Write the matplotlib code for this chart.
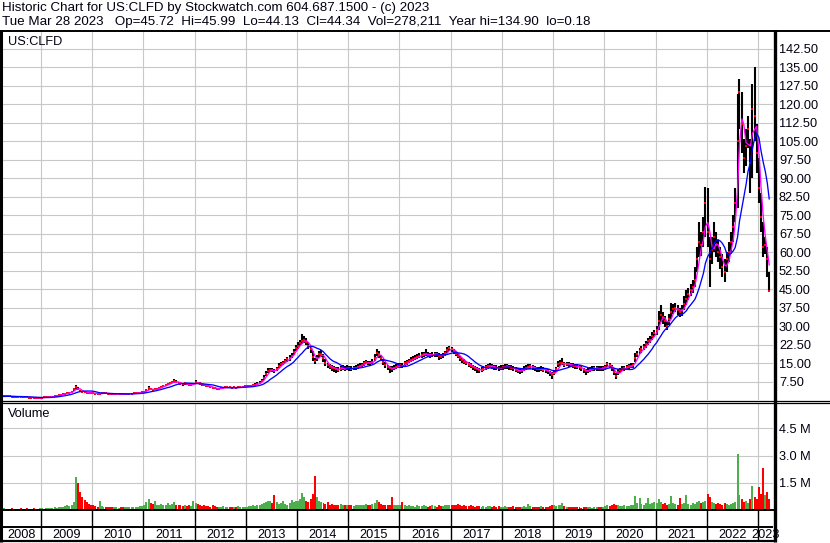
import matplotlib
matplotlib.use('Agg')
import matplotlib.pyplot as plt
import matplotlib.dates as mdates
from matplotlib.lines import Line2D
import numpy as np
import pandas as pd

plt.rcParams['font.family'] = ['Liberation Sans', 'DejaVu Sans']

# ---------------- data (semi-monthly periods) ----------------
ticker = "US:CLFD"
header1 = "Historic Chart for US:CLFD by Stockwatch.com 604.687.1500 - (c) 2023"
header2 = ("Tue Mar 28 2023   Op=45.72  Hi=45.99  Lo=44.13  Cl=44.34  "
           "Vol=278,211  Year hi=134.90  lo=0.18")
years = list(range(2008, 2024))

close_2008 = [1.45, 1.50, 1.55, 1.50, 1.40, 1.35, 1.30, 1.30, 1.25, 1.20, 1.15, 1.10, 1.00, 0.95, 0.90, 0.85, 0.90, 0.95]
high_2008 = [1.60, 1.65, 1.70, 1.62, 1.55, 1.48, 1.42, 1.45, 1.38, 1.32, 1.28, 1.25, 1.15, 1.08, 1.02, 0.98, 1.02, 1.08]
low_2008 = [1.35, 1.38, 1.42, 1.38, 1.28, 1.22, 1.18, 1.20, 1.12, 1.08, 1.02, 0.95, 0.85, 0.82, 0.75, 0.72, 0.78, 0.85]

close_2009 = [1.00, 1.05, 1.10, 1.20, 1.30, 1.40, 1.60, 1.80, 2.00, 2.20, 2.40, 2.60, 2.80, 3.00, 3.40, 4.30, 5.20, 4.40, 3.80, 3.40, 3.10, 3.00, 2.90, 2.80]
high_2009 = [1.10, 1.15, 1.22, 1.32, 1.42, 1.55, 1.75, 1.95, 2.15, 2.35, 2.55, 2.75, 3.00, 3.20, 3.70, 5.00, 6.20, 5.30, 4.20, 3.70, 3.40, 3.25, 3.10, 3.00]
low_2009 = [0.90, 0.95, 1.00, 1.10, 1.20, 1.30, 1.45, 1.65, 1.85, 2.05, 2.25, 2.45, 2.60, 2.85, 3.10, 3.50, 4.20, 3.90, 3.40, 3.10, 2.85, 2.80, 2.70, 2.60]

close_2010 = [2.70, 2.60, 2.50, 2.60, 2.70, 2.80, 2.70, 2.60, 2.50, 2.40, 2.40, 2.50, 2.50, 2.40, 2.30, 2.40, 2.50, 2.60, 2.60, 2.70, 2.80, 2.90, 3.00, 3.20]
high_2010 = [2.90, 2.80, 2.70, 2.85, 2.95, 3.05, 2.90, 2.80, 2.70, 2.60, 2.60, 2.70, 2.70, 2.60, 2.50, 2.60, 2.70, 2.80, 2.80, 2.90, 3.00, 3.10, 3.25, 3.50]
low_2010 = [2.50, 2.40, 2.30, 2.40, 2.50, 2.60, 2.50, 2.40, 2.30, 2.20, 2.20, 2.30, 2.30, 2.20, 2.10, 2.20, 2.30, 2.40, 2.40, 2.50, 2.60, 2.70, 2.80, 2.95]

close_2011 = [3.40, 4.00, 4.80, 4.30, 4.00, 4.30, 4.60, 4.90, 5.30, 5.70, 6.00, 6.40, 6.80, 7.20, 7.60, 7.30, 7.00, 6.60, 6.30, 6.80, 6.50, 6.00, 6.20, 6.50]
high_2011 = [3.80, 4.50, 5.60, 4.80, 4.40, 4.70, 5.00, 5.30, 5.70, 6.10, 6.50, 6.90, 7.30, 7.80, 8.40, 8.00, 7.50, 7.10, 6.90, 7.30, 7.00, 6.50, 6.70, 7.00]
low_2011 = [3.10, 3.60, 4.20, 3.90, 3.70, 3.90, 4.20, 4.50, 4.90, 5.30, 5.60, 5.90, 6.30, 6.70, 7.00, 6.70, 6.40, 6.10, 5.80, 6.20, 6.00, 5.50, 5.70, 6.00]

close_2012 = [7.20, 7.00, 6.60, 6.20, 6.00, 5.80, 5.50, 5.30, 5.00, 4.70, 4.50, 4.60, 4.80, 5.00, 5.10, 5.20, 5.10, 5.00, 5.10, 5.00, 5.20, 5.30, 5.40, 5.50]
high_2012 = [8.10, 7.50, 7.10, 6.70, 6.40, 6.20, 5.90, 5.70, 5.40, 5.10, 4.90, 5.00, 5.20, 5.40, 5.50, 5.60, 5.50, 5.40, 5.50, 5.40, 5.60, 5.70, 5.80, 5.90]
low_2012 = [6.60, 6.50, 6.10, 5.80, 5.60, 5.40, 5.10, 4.90, 4.60, 4.30, 4.10, 4.20, 4.40, 4.60, 4.70, 4.80, 4.70, 4.60, 4.70, 4.60, 4.80, 4.90, 5.00, 5.10]

close_2013 = [5.5, 5.6, 5.8, 6.0, 6.2, 6.6, 7.0, 7.8, 9.0, 10.5, 11.8, 12.3, 12.0, 11.6, 12.5, 13.8, 14.5, 15.0, 15.8, 16.5, 17.0, 18.0, 19.5, 21.0]
high_2013 = [5.9, 6.0, 6.2, 6.4, 6.7, 7.1, 7.6, 8.6, 10.0, 11.8, 12.9, 13.0, 12.8, 12.5, 13.4, 14.8, 15.5, 16.0, 16.8, 17.6, 18.2, 19.2, 20.8, 22.4]
low_2013 = [5.2, 5.3, 5.5, 5.7, 5.9, 6.2, 6.6, 7.3, 8.2, 9.6, 10.9, 11.4, 11.2, 10.8, 11.6, 12.8, 13.6, 14.1, 14.8, 15.5, 16.0, 17.0, 18.3, 19.8]

close_2014 = [22.0, 23.0, 24.0, 24.5, 23.5, 22.0, 20.5, 17.5, 15.8, 17.0, 18.5, 18.8, 17.0, 15.0, 14.0, 13.5, 13.0, 12.8, 12.5, 12.2, 12.8, 13.0, 12.6, 13.0]
high_2014 = [23.5, 24.5, 26.6, 26.0, 25.0, 23.5, 22.0, 20.0, 17.0, 18.2, 20.0, 20.2, 18.8, 16.5, 15.0, 14.5, 14.0, 13.8, 13.5, 13.2, 13.8, 14.0, 13.6, 14.0]
low_2014 = [20.8, 21.8, 22.8, 23.2, 22.2, 20.8, 19.0, 16.0, 14.5, 15.8, 17.2, 17.5, 15.5, 13.8, 12.9, 12.4, 11.8, 11.5, 10.8, 11.2, 11.8, 12.0, 11.6, 12.0]

close_2015 = [12.8, 12.6, 12.9, 13.1, 13.4, 13.8, 14.2, 14.8, 15.3, 15.0, 14.8, 15.5, 17.0, 19.0, 18.5, 17.0, 15.5, 14.2, 13.2, 12.8, 12.6, 13.0, 13.5, 13.8]
high_2015 = [13.8, 13.6, 13.8, 14.1, 14.4, 14.8, 15.2, 15.8, 16.3, 16.0, 15.8, 16.8, 18.5, 20.7, 19.8, 18.3, 16.8, 15.3, 14.3, 13.8, 13.7, 14.0, 14.5, 14.8]
low_2015 = [11.9, 11.7, 12.0, 12.2, 12.5, 12.9, 13.3, 13.9, 14.4, 14.1, 13.9, 14.5, 15.9, 17.8, 17.2, 15.8, 14.3, 13.0, 12.0, 11.0, 11.5, 12.0, 12.5, 12.8]

close_2016 = [14.0, 13.8, 14.8, 15.3, 15.8, 16.3, 16.8, 17.2, 17.6, 18.0, 18.2, 18.5, 18.8, 18.4, 18.0, 18.3, 18.6, 18.5, 18.0, 17.6, 18.2, 19.0, 20.2, 21.0]
high_2016 = [15.0, 14.8, 15.8, 16.3, 16.8, 17.3, 17.8, 18.2, 18.6, 19.0, 19.3, 19.6, 20.7, 19.5, 19.0, 19.3, 19.6, 19.5, 19.0, 18.6, 19.2, 20.0, 21.3, 21.9]
low_2016 = [13.0, 12.9, 13.8, 14.3, 14.8, 15.3, 15.8, 16.2, 16.6, 17.0, 17.2, 17.5, 17.8, 17.4, 17.0, 17.3, 17.6, 17.5, 16.4, 16.6, 17.2, 18.0, 19.2, 20.0]

close_2017 = [20.6, 19.8, 18.8, 18.0, 17.0, 16.2, 15.5, 15.0, 14.3, 13.8, 13.2, 12.8, 12.5, 12.0, 12.2, 12.6, 13.2, 13.6, 13.8, 13.6, 13.2, 13.0, 12.9, 13.1]
high_2017 = [21.6, 20.8, 19.8, 19.0, 18.0, 17.2, 16.5, 16.0, 15.3, 14.8, 14.2, 13.8, 13.5, 13.0, 13.2, 13.6, 14.2, 14.6, 14.8, 14.6, 14.2, 14.0, 13.9, 14.1]
low_2017 = [19.6, 18.8, 17.8, 17.0, 16.0, 15.2, 14.5, 14.0, 13.3, 12.8, 12.2, 11.8, 11.0, 10.8, 11.2, 11.6, 12.2, 12.6, 12.8, 12.6, 12.2, 12.0, 11.9, 12.1]

close_2018 = [13.2, 13.4, 13.6, 13.3, 13.0, 12.8, 12.2, 11.8, 11.6, 12.0, 12.6, 13.0, 13.4, 13.6, 13.3, 12.8, 12.5, 12.4, 12.6, 12.3, 12.0, 11.6, 10.8, 10.2]
high_2018 = [14.2, 14.4, 14.6, 14.3, 14.0, 13.8, 13.2, 12.8, 12.6, 13.0, 13.6, 14.0, 14.4, 14.6, 14.3, 13.8, 13.5, 13.4, 13.6, 13.3, 13.0, 12.6, 11.8, 11.2]
low_2018 = [12.2, 12.4, 12.6, 12.3, 12.0, 11.8, 11.2, 10.8, 10.6, 11.0, 11.6, 12.0, 12.4, 12.6, 12.3, 11.8, 11.5, 11.4, 11.6, 11.3, 11.0, 10.6, 9.6, 8.4]

close_2019 = [11.0, 12.5, 14.5, 14.8, 15.2, 14.3, 14.6, 14.5, 14.2, 13.9, 13.6, 13.5, 13.2, 12.8, 12.0, 11.6, 11.8, 12.3, 12.6, 12.8, 12.9, 12.7, 12.6, 12.8]
high_2019 = [12.0, 13.5, 15.8, 16.3, 16.9, 15.3, 15.6, 15.5, 15.2, 14.9, 14.6, 14.5, 14.2, 13.8, 13.0, 12.6, 12.8, 13.3, 13.6, 13.8, 13.9, 13.7, 13.6, 13.8]
low_2019 = [10.0, 11.5, 13.5, 13.8, 14.2, 13.3, 13.6, 13.5, 13.2, 12.9, 12.6, 12.5, 12.2, 11.8, 11.0, 10.1, 10.8, 11.3, 11.6, 11.8, 11.9, 11.7, 11.6, 11.8]

close_2020 = [13.2, 14.4, 14.0, 13.0, 11.5, 9.8, 11.2, 12.0, 12.6, 12.9, 13.2, 13.6, 13.8, 14.0, 17.0, 18.6, 19.8, 20.5, 21.5, 22.6, 23.8, 24.5, 25.8, 27.0]
high_2020 = [14.2, 15.4, 15.0, 14.2, 13.0, 11.0, 12.4, 13.0, 13.6, 13.9, 14.2, 14.6, 14.8, 15.2, 18.9, 19.8, 21.0, 21.8, 22.8, 24.0, 25.2, 26.0, 27.4, 28.4]
low_2020 = [12.2, 13.4, 13.0, 11.8, 10.0, 8.4, 10.2, 11.0, 11.6, 11.9, 12.2, 12.6, 12.8, 13.0, 15.6, 17.4, 18.6, 19.2, 20.2, 21.2, 22.4, 23.0, 24.4, 25.6]

close_2021 = [28.5, 32.0, 34.5, 33.5, 32.0, 30.0, 33.0, 35.5, 37.0, 37.5, 36.5, 35.5, 36.5, 39.0, 41.0, 43.0, 44.5, 46.0, 48.5, 57.0, 64.0, 63.0, 68.0, 80.0]
high_2021 = [30.0, 36.0, 38.5, 35.5, 34.0, 32.0, 35.0, 39.2, 39.0, 39.5, 38.5, 37.5, 38.5, 42.0, 44.6, 45.5, 47.0, 48.5, 54.0, 62.0, 72.3, 68.0, 74.0, 86.5]
low_2021 = [26.5, 28.5, 31.5, 31.0, 29.5, 28.4, 30.5, 33.0, 35.0, 35.5, 34.5, 33.5, 34.0, 36.5, 38.5, 40.5, 42.0, 43.5, 46.0, 52.0, 58.0, 58.5, 62.0, 66.0]

close_2022 = [68, 57, 61, 66, 63, 60, 58, 54, 52, 57, 60, 64, 70, 80, 105, 125, 112, 98, 103, 110, 96, 118, 115, 100]
high_2022 = [86, 66, 66, 72, 68, 65, 62, 59, 57, 60, 64, 68, 75, 86, 124, 130, 125, 106, 110, 115, 106, 128, 135, 112]
low_2022 = [62, 46, 55, 60, 58, 56, 53, 50, 48, 52, 56, 59, 64, 72, 78, 110, 100, 92, 95, 102, 84, 90, 105, 92]

close_2023 = [86, 74, 62, 63, 57, 44.3]
high_2023 = [98, 84, 72, 66, 62, 52]
low_2023 = [80, 68, 58, 59, 50, 44.0]

# volume, thousands of shares (largest daily bar in each half month)
vol_2008 = [90, 70, 80, 60, 110, 70, 60, 80, 90, 60, 70, 100, 80, 60, 90, 70, 80, 110]
vol_2009 = [100, 80, 120, 90, 110, 130, 150, 120, 140, 180, 160, 200, 250, 220, 300, 450, 1830, 1500, 1000, 700, 550, 450, 350, 300]
vol_2010 = [250, 200, 180, 500, 200, 180, 150, 170, 160, 140, 150, 180, 130, 150, 140, 160, 170, 150, 140, 160, 180, 170, 200, 220]
vol_2011 = [300, 450, 620, 400, 350, 500, 300, 280, 350, 300, 250, 400, 300, 350, 450, 300, 250, 300, 200, 250, 220, 300, 200, 500]
vol_2012 = [400, 350, 250, 200, 300, 220, 200, 180, 250, 200, 180, 150, 170, 200, 160, 150, 180, 140, 160, 150, 200, 170, 180, 160]
vol_2013 = [180, 200, 220, 250, 200, 300, 280, 350, 400, 450, 500, 480, 400, 830, 450, 350, 400, 500, 350, 300, 400, 550, 450, 500]
vol_2014 = [500, 600, 950, 700, 500, 450, 600, 900, 1870, 700, 500, 450, 400, 350, 450, 300, 350, 300, 250, 300, 350, 280, 300, 250]
vol_2015 = [250, 300, 200, 250, 300, 280, 250, 300, 350, 250, 300, 350, 400, 550, 450, 350, 300, 250, 300, 250, 700, 300, 250, 280]
vol_2016 = [300, 420, 250, 200, 250, 220, 200, 180, 250, 200, 220, 250, 200, 180, 220, 250, 200, 180, 250, 220, 200, 300, 250, 280]
vol_2017 = [300, 250, 280, 350, 250, 220, 250, 200, 220, 250, 200, 180, 200, 220, 180, 200, 180, 220, 200, 180, 200, 180, 200, 180]
vol_2018 = [180, 200, 160, 180, 150, 200, 180, 160, 150, 180, 200, 170, 350, 200, 180, 150, 160, 180, 200, 170, 150, 180, 200, 250]
vol_2019 = [250, 200, 300, 250, 380, 200, 180, 150, 160, 150, 140, 160, 150, 130, 150, 170, 140, 150, 130, 140, 150, 160, 140, 150]
vol_2020 = [200, 250, 220, 300, 350, 300, 250, 200, 220, 250, 200, 220, 250, 300, 750, 400, 660, 350, 300, 400, 660, 350, 400, 450]
vol_2021 = [400, 620, 450, 350, 400, 300, 350, 750, 400, 350, 300, 660, 350, 400, 820, 350, 300, 400, 350, 450, 500, 400, 450, 500]
vol_2022 = [880, 700, 450, 400, 350, 400, 350, 300, 400, 350, 300, 350, 400, 450, 3070, 800, 600, 450, 500, 400, 600, 1300, 700, 600]
vol_2023 = [1250, 900, 2300, 800, 1000, 600]

price_ticks = [7.5 * k for k in range(1, 20)]
vol_ticks = [1.5e6, 3.0e6, 4.5e6]
vol_tick_labels = ["1.5 M", "3.0 M", "4.5 M"]

# ---------------- assemble ----------------
close = np.array(sum([globals()[f"close_{y}"] for y in years], []), dtype=float)
high = np.array(sum([globals()[f"high_{y}"] for y in years], []), dtype=float)
low = np.array(sum([globals()[f"low_{y}"] for y in years], []), dtype=float)
vol = np.array(sum([globals()[f"vol_{y}"] for y in years], []), dtype=float) * 1000

periods = pd.date_range("2008-04-01", "2023-03-15", freq="SMS")
assert len(periods) == len(close) == len(vol)
x = mdates.date2num(periods + pd.Timedelta(days=7))

# moving averages of the closes (about 30 and 100 trading days)
ma_fast = pd.Series(close).rolling(3, min_periods=1).mean().values
ma_slow = pd.Series(close).rolling(10, min_periods=1).mean().values
up = np.concatenate([[True], close[1:] >= close[:-1]])

# ---------------- layout ----------------
W, H, DPI = 830, 543, 100
fig = plt.figure(figsize=(W / DPI, H / DPI), dpi=DPI)
fig.patch.set_facecolor("white")

def fx(px):
    return px / W

def fy(py):
    return 1 - py / H

GRID = "#c8c8c8"
TXT = "#000010"
FS = 9.2
FSH = 9.6
x0d = mdates.date2num(pd.Timestamp("2008-03-28"))
x1d = mdates.date2num(pd.Timestamp("2023-04-18"))
year_starts = mdates.date2num(pd.to_datetime([f"{y}-01-01" for y in years[1:]]))

L, R = 2, 773
ax_p = fig.add_axes([fx(L), fy(400), (R - L) / W, (400 - 31) / H])
ax_v = fig.add_axes([fx(L), fy(510), (R - L) / W, (510 - 403) / H])
ax_y = fig.add_axes([fx(L), fy(541), (R - L) / W, (541 - 510) / H])

for ax in (ax_p, ax_v, ax_y):
    ax.set_xlim(x0d, x1d)
    for s in ax.spines.values():
        s.set_visible(False)
    ax.set_facecolor("white")

for ax in (ax_p, ax_v):
    ax.set_xticks(year_starts)
    ax.tick_params(axis="x", length=0, labelbottom=False)
    ax.grid(True, color=GRID, lw=0.8)
    ax.set_axisbelow(True)
    ax.yaxis.tick_right()
    ax.tick_params(axis="y", length=0, pad=4.3, labelsize=FS, labelcolor=TXT)

# price panel
ax_p.set_ylim(0, 149.6)
ax_p.set_yticks(price_ticks)
ax_p.set_yticklabels([f"{v:.2f}" for v in price_ticks])
ax_p.vlines(x, low, high, color="black", lw=1.5, zorder=3)
ax_p.plot(x, close, ls="none", marker="s", ms=1.7, mew=0, color="#ff0000", zorder=4)
ax_p.plot(x, ma_fast, color="#ff00ff", lw=0.95, zorder=5)
ax_p.plot(x, ma_slow, color="#0000ff", lw=0.95, zorder=6)
fig.text(fx(8), fy(42), ticker, fontsize=FS, color=TXT, va="center", ha="left")

# volume panel
vmin = 0.0
ax_v.set_ylim(vmin, 5.9e6)
ax_v.set_yticks(vol_ticks)
ax_v.set_yticklabels(vol_tick_labels)
ax_v.bar(x, vol - vmin, bottom=vmin, width=14, color=np.where(up, "#4caf4c", "#ff0000"),
         linewidth=0, zorder=3, antialiased=False)
fig.text(fx(8), fy(414), "Volume", fontsize=FS, color=TXT, va="center", ha="left")

# year band
ax_y.set_ylim(0, 1)
ax_y.set_xticks([])
ax_y.set_yticks([])
ax_y.vlines(year_starts, 0, 1, color="black", lw=1.0)
ax_y.axhline((541 - 527) / 31, color="black", lw=1.4)
bounds = [x0d] + list(year_starts) + [x1d]
for i, yv in enumerate(years):
    ax_y.text((bounds[i] + bounds[i + 1]) / 2, (541 - 534.5) / 31, str(yv),
              ha="center", va="center", fontsize=FS, color=TXT, clip_on=False)

# header
fig.text(fx(2), fy(8.5), header1, fontsize=FSH, color=TXT, va="center", ha="left")
fig.text(fx(2), fy(22), header2, fontsize=FSH, color=TXT, va="center", ha="left")

# frame lines
def hline(py, xa, xb, lw):
    fig.add_artist(Line2D([fx(xa), fx(xb)], [fy(py), fy(py)], color="black", lw=lw,
                          transform=fig.transFigure, solid_capstyle="butt", zorder=10))

def vline(px, ya, yb, lw):
    fig.add_artist(Line2D([fx(px), fx(px)], [fy(ya), fy(yb)], color="black", lw=lw,
                          transform=fig.transFigure, solid_capstyle="butt", zorder=10))

hline(30.5, 0, W, 1.4)
hline(400.5, 0, W, 0.9)
hline(402.8, 0, W, 0.9)
hline(510, 0, 775, 1.4)
hline(540.8, 0, 775, 1.6)
vline(1, 30, 542, 2.2)
vline(774.5, 30, 542, 2.4)

fig.savefig("out.png", dpi=DPI, facecolor="white")
